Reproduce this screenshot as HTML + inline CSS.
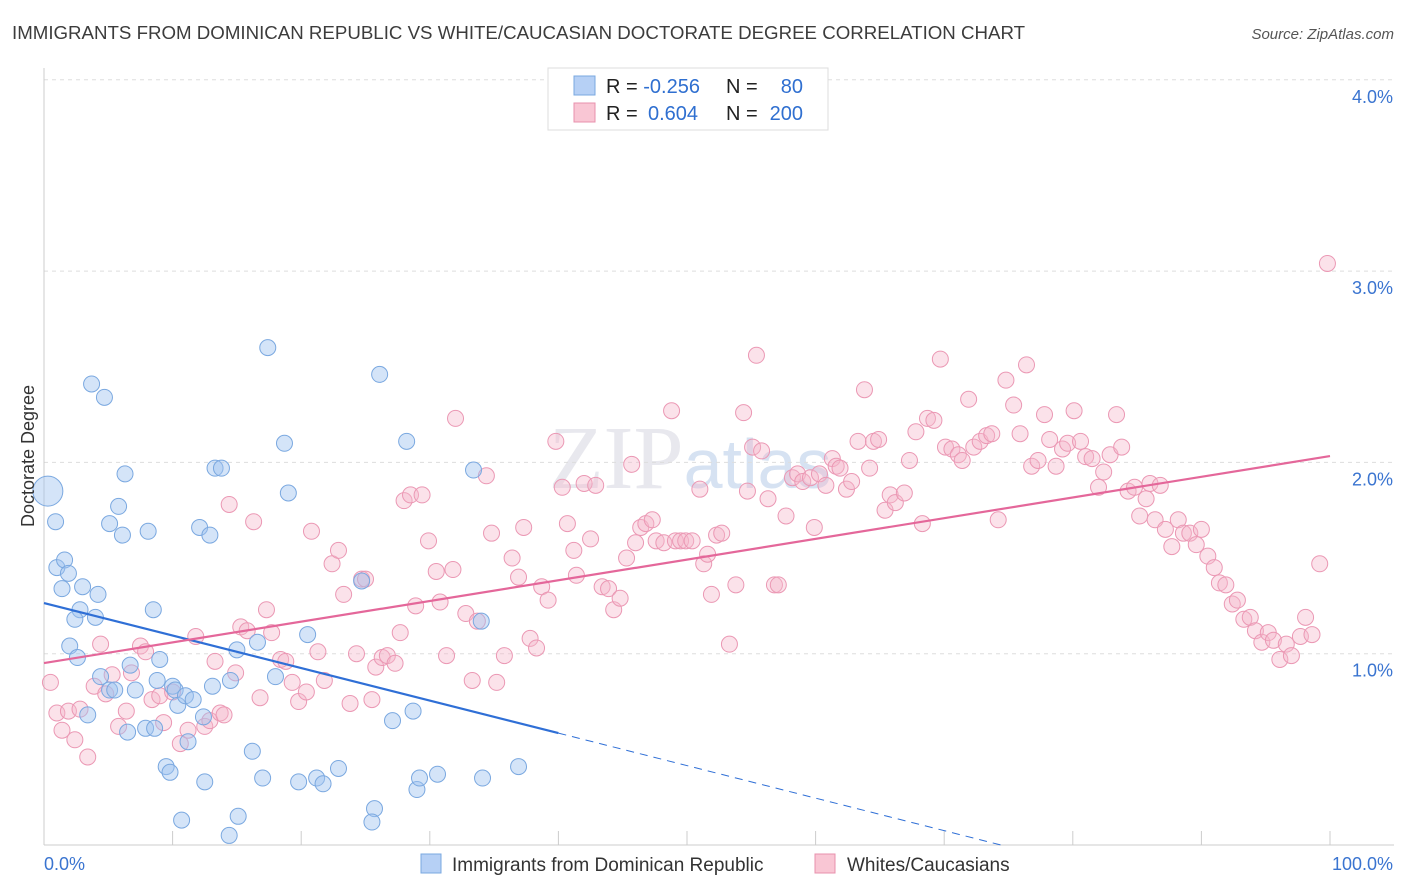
<!DOCTYPE html>
<html><head><meta charset="utf-8">
<style>
body{margin:0;background:#fff;font-family:"Liberation Sans",sans-serif;}
svg{display:block}
</style></head>
<body>
<svg id="chart" width="1406" height="892" xmlns="http://www.w3.org/2000/svg">
<text x="12" y="39" font-size="18.7" fill="#3c3c3c">IMMIGRANTS FROM DOMINICAN REPUBLIC VS WHITE/CAUCASIAN DOCTORATE DEGREE CORRELATION CHART</text>
<text x="1394" y="39" font-size="15" fill="#555" font-style="italic" text-anchor="end">Source: ZipAtlas.com</text>
<text x="690" y="488" font-size="90" fill="#e8e8ee" text-anchor="middle" font-family="Liberation Serif">ZIP<tspan fill="#d6e2f2" font-family="Liberation Sans" font-size="70">atlas</tspan></text>
<g id="grid"></g>
<g id="axes"></g>
<g id="pts"></g>
<g id="trends"></g>
<text transform="translate(34,456) rotate(-90)" font-size="18" fill="#333" text-anchor="middle">Doctorate Degree</text>
<g>
<rect x="548" y="68" width="280" height="62" fill="#fff" stroke="#ddd"/>
<rect x="574" y="76" width="21" height="19" fill="#b6d0f5" stroke="#7aa8e0"/>
<rect x="574" y="103" width="21" height="19" fill="#f9c6d4" stroke="#e890ad"/>
<text x="606" y="93" font-size="20" fill="#222">R = <tspan fill="#2f6fd0">-0.256</tspan></text>
<text x="726" y="93" font-size="20" fill="#222">N =</text>
<text x="803" y="93" font-size="20" fill="#2f6fd0" text-anchor="end">80</text>
<text x="606" y="120" font-size="20" fill="#222">R = </text>
<text x="648" y="120" font-size="20" fill="#2f6fd0">0.604</text>
<text x="726" y="120" font-size="20" fill="#222">N =</text>
<text x="803" y="120" font-size="20" fill="#2f6fd0" text-anchor="end">200</text>
</g>
<g>
<rect x="421" y="854" width="20" height="19" fill="#b6d0f5" stroke="#7aa8e0"/>
<text x="452" y="871" font-size="19" fill="#333">Immigrants from Dominican Republic</text>
<rect x="815" y="854" width="20" height="19" fill="#f9c6d4" stroke="#e890ad"/>
<text x="847" y="871" font-size="19" fill="#333">Whites/Caucasians</text>
</g>
</svg>
<script>
const yTicks=[1,2,3,4];
const yTickLabels=["1.0%","2.0%","3.0%","4.0%"];
const xTickLabels=["0.0%","100.0%"];
const blueX=[0.3,0.9,1.0,1.6,1.9,1.4,3.7,4.7,5.8,5.1,6.1,6.3,8.1,4.2,2.8,3.0,2.4,4.0,2.0,2.6,3.4,4.4,5.1,5.5,6.7,7.1,8.5,9.0,8.8,10.0,10.2,10.4,11.0,11.6,11.2,7.9,6.5,8.6,12.1,12.9,13.3,13.8,13.1,14.5,15.0,16.6,12.4,12.5,9.5,9.8,10.7,14.4,15.1,16.2,17.0,17.4,18.7,19.0,18.0,20.5,19.8,21.2,21.7,22.9,24.7,26.1,28.2,33.4,34.0,25.7,25.5,27.1,28.7,29.0,29.2,30.6,34.1,36.9];
const blueY=[1.85,1.69,1.45,1.49,1.42,1.34,2.41,2.34,1.77,1.68,1.62,1.94,1.64,1.31,1.23,1.35,1.18,1.19,1.04,0.98,0.68,0.88,0.81,0.81,0.94,0.81,1.23,0.97,0.86,0.83,0.81,0.73,0.78,0.76,0.54,0.61,0.59,0.61,1.66,1.62,1.97,1.97,0.83,0.86,1.02,1.06,0.67,0.33,0.41,0.38,0.13,0.05,0.15,0.49,0.35,2.60,2.10,1.84,0.88,1.10,0.33,0.35,0.32,0.40,1.38,2.46,2.11,1.96,1.17,0.19,0.12,0.65,0.70,0.29,0.35,0.37,0.35,0.41];
const pinkX=[0.5,1.0,1.4,1.9,2.4,2.8,3.4,3.9,4.4,4.8,5.3,5.8,6.4,6.8,7.5,7.9,8.4,9.0,9.3,10.0,10.6,11.2,11.8,12.5,12.9,13.3,13.7,14.0,14.4,14.9,15.3,15.8,16.3,16.8,17.3,17.7,18.4,18.8,19.3,19.8,20.4,20.8,21.3,21.8,22.4,22.9,23.3,23.8,24.3,24.7,25.0,25.5,25.8,26.3,26.7,27.3,27.7,28.0,28.5,28.9,29.4,29.9,30.5,30.8,31.3,31.8,32.0,32.8,33.3,33.7,34.4,34.8,35.2,35.8,36.4,36.9,37.3,37.8,38.3,38.7,39.2,39.8,40.3,40.7,41.2,41.4,42.0,42.5,42.9,43.4,43.9,44.3,44.8,45.3,45.7,46.0,46.4,46.8,47.3,47.6,48.2,48.8,49.1,49.5,49.9,50.4,51.0,51.3,51.6,51.9,52.3,52.7,53.3,53.8,54.4,54.7,55.1,55.4,55.8,56.3,56.8,57.1,57.7,58.2,58.6,59.0,59.6,59.9,60.3,60.8,61.3,61.6,61.9,62.4,62.8,63.3,63.8,64.2,64.5,64.9,65.4,65.8,66.2,66.9,67.3,67.8,68.3,68.7,69.2,69.7,70.1,70.6,71.1,71.4,71.9,72.3,72.8,73.3,73.7,74.2,74.8,75.4,75.9,76.4,76.8,77.3,77.8,78.2,78.7,79.2,79.6,80.1,80.6,81.0,81.5,82.0,82.4,82.9,83.4,83.8,84.3,84.8,85.2,85.7,86.0,86.4,86.8,87.2,87.7,88.2,88.6,89.1,89.6,90.0,90.5,91.0,91.4,91.9,92.4,92.8,93.3,93.8,94.2,94.7,95.2,95.6,96.1,96.6,97.0,97.7,98.1,98.6,99.2,99.8];
const pinkY=[0.85,0.69,0.60,0.70,0.55,0.71,0.46,0.83,1.05,0.79,0.89,0.62,0.70,0.90,1.04,1.01,0.76,0.78,0.64,0.80,0.53,0.60,1.09,0.62,0.65,0.96,0.69,0.68,1.78,0.90,1.14,1.12,1.69,0.77,1.23,1.11,0.97,0.96,0.85,0.75,0.80,1.64,1.01,0.86,1.47,1.54,1.31,0.74,1.00,1.39,1.39,0.76,0.93,0.98,0.99,0.95,1.11,1.80,1.83,1.25,1.83,1.59,1.43,1.27,0.99,1.44,2.23,1.21,0.86,1.17,1.93,1.63,0.85,0.99,1.50,1.40,1.66,1.08,1.03,1.35,1.28,2.11,1.87,1.68,1.54,1.41,1.89,1.60,1.88,1.35,1.34,1.23,1.29,1.50,1.99,1.58,1.66,1.68,1.70,1.59,1.58,2.27,1.59,1.59,1.59,1.59,1.86,1.47,1.52,1.31,1.62,1.63,1.05,1.36,2.26,1.85,2.08,2.56,2.06,1.81,1.36,1.36,1.72,1.92,1.94,1.90,1.92,1.66,1.94,1.88,2.02,1.98,1.97,1.86,1.90,2.11,2.38,1.97,2.11,2.12,1.75,1.83,1.79,1.84,2.01,2.16,1.68,2.23,2.22,2.54,2.08,2.07,2.04,2.01,2.33,2.08,2.11,2.14,2.15,1.70,2.43,2.30,2.15,2.51,1.98,2.01,2.25,2.12,1.98,2.07,2.10,2.27,2.11,2.03,2.02,1.87,1.95,2.04,2.25,2.08,1.85,1.87,1.72,1.81,1.89,1.70,1.88,1.65,1.56,1.70,1.63,1.63,1.57,1.65,1.51,1.45,1.37,1.36,1.26,1.28,1.18,1.19,1.12,1.06,1.11,1.07,0.97,1.05,0.99,1.09,1.19,1.10,1.47,3.04];
const blueTrend=[1.265,-0.017];
const pinkTrend=[0.951,0.01082];
const NS="http://www.w3.org/2000/svg";
const X=v=>44+v*12.86, Y=v=>845-v*191.3;
function mk(p,t,a){const e=document.createElementNS(NS,t);for(const k in a)e.setAttribute(k,a[k]);p.appendChild(e);return e;}
const grid=document.getElementById('grid'),axes=document.getElementById('axes'),pts=document.getElementById('pts'),tr=document.getElementById('trends');
yTicks.forEach((t,i)=>{
 const l=mk(grid,'line',{x1:44,x2:1394,y1:Y(t),y2:Y(t),stroke:'#ddd','stroke-dasharray':'4,4'});
 
 
 const tx=mk(axes,'text',{x:1393,y:Y(t)+23,'font-size':18,fill:'#3a74d0','text-anchor':'end'});
 tx.textContent=yTickLabels[i];
 
 
});
const xl=mk(axes,'line',{x1:44,x2:1394,y1:845,y2:845,stroke:'#ccc'});


const yl=mk(axes,'line',{x1:44,x2:44,y1:68,y2:845,stroke:'#ccc'});


for(let i=0;i<=10;i++){const t=mk(axes,'line',{x1:X(i*10),x2:X(i*10),y1:831,y2:845,stroke:'#ccc'});
 
 }
[[0,44,'start'],[100,1393,'end']].forEach((d,i)=>{const t=mk(axes,'text',{x:d[1],y:870,'font-size':18,fill:'#3a74d0','text-anchor':d[2]});t.textContent=xTickLabels[i];
 
 });
pinkX.forEach((x,i)=>{const c=mk(pts,'circle',{cx:X(x),cy:Y(pinkY[i]),r:8,fill:'rgba(246,182,202,0.4)',stroke:'#eb98b4','stroke-width':1});
 
 });
blueX.forEach((x,i)=>{const c=mk(pts,'circle',{cx:X(x),cy:Y(blueY[i]),r:i==0?15:8,fill:'rgba(160,196,240,0.45)',stroke:'#7aa8e0','stroke-width':1});
 
 });
const bz=-blueTrend[0]/blueTrend[1];
const b1=mk(tr,'line',{x1:X(0),y1:Y(blueTrend[0]),x2:X(40),y2:Y(blueTrend[0]+blueTrend[1]*40),stroke:'#2f6fd6','stroke-width':2.2});


const b2=mk(tr,'line',{x1:X(40),y1:Y(blueTrend[0]+blueTrend[1]*40),x2:X(bz),y2:Y(0),stroke:'#2f6fd6','stroke-width':1,'stroke-dasharray':'8,6'});


const p1=mk(tr,'line',{x1:X(0),y1:Y(pinkTrend[0]),x2:X(100),y2:Y(pinkTrend[0]+pinkTrend[1]*100),stroke:'#e4679a','stroke-width':2.2});


</script>
</body></html>
